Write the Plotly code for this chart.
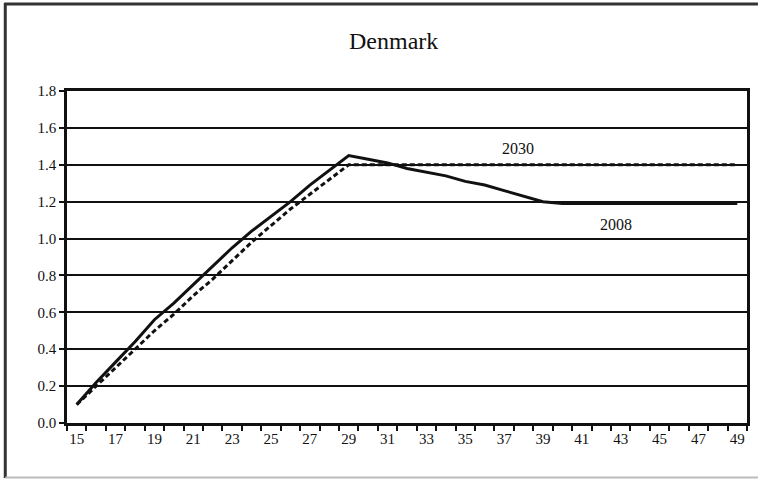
import plotly.graph_objects as go

# ages on the x axis
ages = list(range(15, 50))

# 2008 curve (solid)
v2008 = [0.10, 0.22, 0.33, 0.44, 0.56, 0.65, 0.75, 0.85, 0.95, 1.04,
         1.12, 1.20, 1.29, 1.37, 1.45, 1.43, 1.41, 1.38, 1.36, 1.34,
         1.31, 1.29, 1.26, 1.23, 1.20, 1.19, 1.19, 1.19, 1.19, 1.19,
         1.19, 1.19, 1.19, 1.19, 1.19]

# 2030 curve (dashed)
v2030 = [0.10, 0.20, 0.30, 0.40, 0.50, 0.59, 0.69, 0.78, 0.88, 0.98,
         1.07, 1.16, 1.24, 1.32, 1.40, 1.40, 1.40, 1.40, 1.40, 1.40,
         1.40, 1.40, 1.40, 1.40, 1.40, 1.40, 1.40, 1.40, 1.40, 1.40,
         1.40, 1.40, 1.40, 1.40, 1.40]

x_labels = list(range(15, 50, 2))
y_ticks = [0.0, 0.2, 0.4, 0.6, 0.8, 1.0, 1.2, 1.4, 1.6, 1.8]

serif = "Liberation Serif, Times New Roman, serif"

# plot area in pixels: x 67..750, y 91..423
L, R, T, B = 67, 750, 91, 423
W, H = R - L, B - T


def px(x):
    return (x - L) / W


def py(y):
    return (B - y) / H


fig = go.Figure()

fig.add_trace(go.Scatter(
    x=ages, y=v2030, mode="lines", name="2030",
    line=dict(color="#111", width=3, dash="5px,3px")
))
fig.add_trace(go.Scatter(
    x=ages, y=v2008, mode="lines", name="2008",
    line=dict(color="#111", width=3)
))

# series labels
fig.add_annotation(x=37.7, y=1.49, text="2030", showarrow=False,
                   xanchor="center", yanchor="middle",
                   font=dict(family=serif, size=16, color="#111"))
fig.add_annotation(x=42.74, y=1.075, text="2008", showarrow=False,
                   xanchor="center", yanchor="middle",
                   font=dict(family=serif, size=16, color="#111"))

# title
fig.add_annotation(x=px(395), xref="paper", y=py(41), yref="paper", text="Denmark",
                   showarrow=False, xanchor="center", yanchor="middle",
                   font=dict(family=serif, size=24, color="#111"))

# outer frame (top/left dark, bottom light)
fig.add_shape(type="line", xref="paper", yref="paper",
              x0=px(4), x1=px(761), y0=py(4), y1=py(4),
              line=dict(color="#333", width=3))
fig.add_shape(type="line", xref="paper", yref="paper",
              x0=px(5), x1=px(5), y0=py(478), y1=py(3),
              line=dict(color="#333", width=3))
fig.add_shape(type="line", xref="paper", yref="paper",
              x0=px(5), x1=px(761), y0=py(477.5), y1=py(477.5),
              line=dict(color="#bbb", width=2))

fig.update_layout(
    width=762, height=479,
    margin=dict(l=L, r=762 - R, t=T, b=479 - B),
    paper_bgcolor="white", plot_bgcolor="white",
    showlegend=False,
    font=dict(family=serif, size=15, color="#111"),
)

fig.update_xaxes(
    range=[14.5, 49.5], tickvals=x_labels, ticktext=[str(v) for v in x_labels],
    ticks="", showgrid=False, zeroline=False,
    showline=True, linecolor="#111", linewidth=2.5, mirror=True,
    minor=dict(tick0=14.5, dtick=1, ticks="outside", ticklen=5, tickwidth=2,
               tickcolor="#111", showgrid=False),
    tickfont=dict(family=serif, size=15, color="#111"),
)
fig.update_yaxes(
    range=[0, 1.8], tickvals=y_ticks, tickformat=".1f",
    ticks="outside", ticklen=5, tickwidth=2, tickcolor="#111",
    showgrid=True, gridcolor="#111", gridwidth=2, zeroline=False,
    showline=True, linecolor="#111", linewidth=2.5, mirror=True,
    tickfont=dict(family=serif, size=15, color="#111"),
)

fig.write_html("out.html", config=dict(displayModeBar=False),
               post_script="document.body.style.margin='0';")
